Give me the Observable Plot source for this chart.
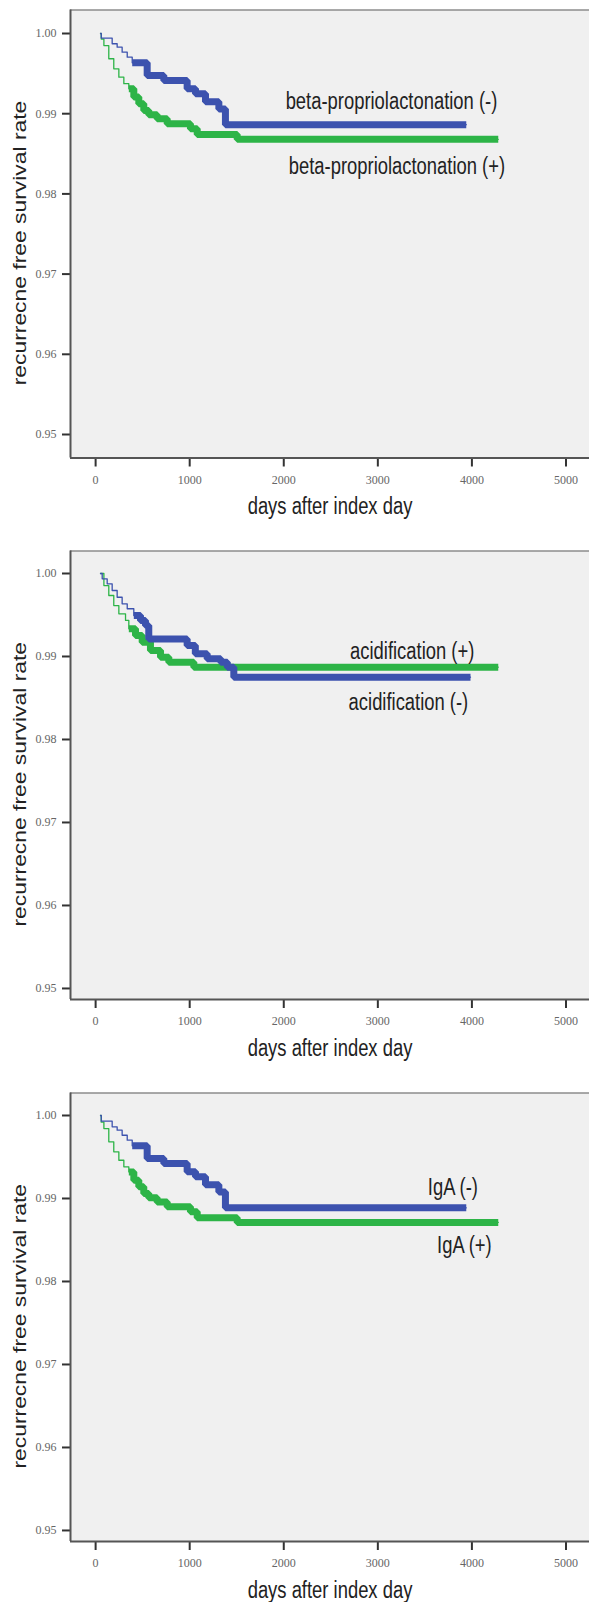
<!DOCTYPE html>
<html>
<head>
<meta charset="utf-8">
<script src="https://cdn.jsdelivr.net/npm/d3@7"></script>
<script src="https://cdn.jsdelivr.net/npm/@observablehq/plot@0.6"></script>
<style>
  html, body { margin: 0; padding: 0; background: #fff; overflow: hidden; }
  #chart svg { display: block; }
</style>
</head>
<body>
<div id="chart"></div>
<script>
// ---------- data ----------
const xTicks = [0, 1000, 2000, 3000, 4000, 5000];
const yTicks = [0.95, 0.96, 0.97, 0.98, 0.99, 1.00];
const yTitle = "recurrecne free survival rate";
const xTitle = "days after index day";

// Panel 1: beta-propriolactonation
const bplNegDays = [52, 60, 176, 229, 282, 336, 389, 548, 725, 973, 1062, 1168, 1310, 1380, 3940];
const bplNegSurv = [1.0, 0.99943, 0.99872, 0.9983, 0.99767, 0.99705, 0.99635, 0.99477, 0.99415, 0.99311, 0.9925, 0.9915, 0.9906, 0.98863, 0.98863];
const bplNegBandStart = 389;
const bplPosDays = [52, 60, 88, 140, 193, 247, 300, 353, 406, 459, 512, 565, 654, 761, 1008, 1080, 1505, 4280];
const bplPosSurv = [1.0, 0.9993, 0.9985, 0.99685, 0.9956, 0.99456, 0.99374, 0.9931, 0.99207, 0.99124, 0.9904, 0.98987, 0.98937, 0.98875, 0.98813, 0.9874, 0.9868, 0.9868];
const bplPosBandStart = 353;
const bplLabels = ["beta-propriolactonation (-)", "beta-propriolactonation (+)"];
const bplLabelDays = [3145, 3203];
const bplLabelSurv = [0.99155, 0.98345];

// Panel 2: acidification
const acidNegDays = [52, 70, 123, 176, 229, 282, 336, 406, 477, 530, 565, 973, 1060, 1186, 1330, 1400, 1469, 3985];
const acidNegSurv = [1.0, 0.99936, 0.99876, 0.99795, 0.99714, 0.99635, 0.99575, 0.99494, 0.99434, 0.99373, 0.99211, 0.99133, 0.99033, 0.98972, 0.98931, 0.98871, 0.98751, 0.98751];
const acidNegBandStart = 406;
const acidPosDays = [52, 88, 140, 193, 247, 318, 353, 424, 495, 583, 690, 778, 1044, 4280];
const acidPosSurv = [1.0, 0.99855, 0.99735, 0.99614, 0.99514, 0.99434, 0.99334, 0.99253, 0.99172, 0.99072, 0.98992, 0.98931, 0.98871, 0.98871];
const acidPosBandStart = 353;
const acidLabels = ["acidification (+)", "acidification (-)"];
const acidLabelDays = [3365, 3325];
const acidLabelSurv = [0.99055, 0.98440];

// Panel 3: IgA
const igaNegDays = [52, 60, 176, 229, 282, 336, 389, 548, 725, 973, 1062, 1168, 1310, 1380, 3940];
const igaNegSurv = [1.0, 0.99932, 0.99864, 0.99823, 0.99762, 0.99702, 0.99634, 0.99482, 0.99422, 0.99321, 0.99262, 0.99165, 0.99078, 0.98888, 0.98888];
const igaNegBandStart = 389;
const igaPosDays = [52, 60, 88, 140, 193, 247, 300, 353, 406, 459, 512, 565, 654, 761, 1008, 1080, 1505, 4280];
const igaPosSurv = [1.0, 0.9992, 0.99842, 0.99683, 0.99562, 0.99461, 0.99382, 0.9932, 0.9922, 0.9914, 0.99059, 0.99008, 0.98959, 0.98899, 0.98839, 0.98769, 0.98711, 0.98711];
const igaPosBandStart = 353;
const igaLabels = ["IgA (-)", "IgA (+)"];
const igaLabelDays = [3798, 3920];
const igaLabelSurv = [0.99127, 0.98429];

// axis extents of each panel
const xDomain = [-267, 5250];
const yDomain1 = [0.94707, 1.00293];
const yDomain23 = [0.94867, 1.00271];

// ---------- styling ----------
const BLUE = "#3c52ae";
const GREEN = "#2db447";
const sans = "'Liberation Sans', Arial, sans-serif";
const serif = "'Liberation Serif', 'Times New Roman', serif";
const H_SIZE = 23;   // horizontal labels (narrowed below)
const V_SIZE = 18;   // vertical axis title (lengthened below)

function rows(days, surv) { return days.map((d, i) => ({day: d, surv: surv[i]})); }

function panel({negDays, negSurv, negBand, posDays, posSurv, posBand, labels, labelDays, labelSurv, yDomain, height, marginBottom}) {
  const neg = rows(negDays, negSurv);
  const pos = rows(posDays, posSurv);
  const lab = labels.map((t, i) => ({text: t, day: labelDays[i], surv: labelSurv[i]}));
  return Plot.plot({
    width: 589,
    height,
    marginTop: 9.5,
    marginLeft: 70,
    marginRight: 0,
    marginBottom,
    style: {background: "#fff", overflow: "visible"},
    x: {domain: xDomain},
    y: {domain: yDomain},
    marks: [
      Plot.frame({fill: "#f0f0f0", stroke: null}),
      Plot.ruleY([yDomain[1]], {stroke: "#8c8c8c", strokeWidth: 1.5}),
      Plot.line(pos, {x: "day", y: "surv", curve: "step-after", stroke: GREEN, strokeWidth: 1.3}),
      Plot.line(neg, {x: "day", y: "surv", curve: "step-after", stroke: BLUE, strokeWidth: 1.3}),
      Plot.line(pos.filter(d => d.day >= posBand), {x: "day", y: "surv", curve: "step-after", stroke: GREEN, strokeWidth: 7, strokeLinejoin: "miter", strokeLinecap: "butt"}),
      Plot.line(neg.filter(d => d.day >= negBand), {x: "day", y: "surv", curve: "step-after", stroke: BLUE, strokeWidth: 7, strokeLinejoin: "miter", strokeLinecap: "butt"}),
      Plot.text(lab, {x: "day", y: "surv", text: "text", fontFamily: sans, fontSize: H_SIZE, fill: "#222", textAnchor: "middle"}),
      Plot.axisY({ticks: yTicks, tickFormat: d3.format(".2f"), tickSize: 8, tickPadding: 6, strokeWidth: 2, stroke: "#333", fill: "#666", fontFamily: serif, fontSize: 12, label: null}),
      Plot.axisX({ticks: xTicks, tickFormat: d3.format("d"), tickSize: 9, tickPadding: 8, strokeWidth: 2, stroke: "#333", fill: "#666", fontFamily: serif, fontSize: 12, label: null}),
      Plot.ruleX([xDomain[0]], {stroke: "#555", strokeWidth: 2}),
      Plot.ruleY([yDomain[0]], {stroke: "#555", strokeWidth: 2}),
      Plot.text([yTitle], {frameAnchor: "left", text: d => d, rotate: -90, textAnchor: "middle", lineAnchor: "middle", dx: -50, dy: 9, fontFamily: sans, fontSize: V_SIZE, fill: "#222"}),
      Plot.text([xTitle], {frameAnchor: "bottom", text: d => d, textAnchor: "middle", lineAnchor: "middle", dy: 49, fontFamily: sans, fontSize: H_SIZE, fill: "#222"})
    ]
  });
}

const chart = document.getElementById("chart");
chart.append(panel({negDays: bplNegDays, negSurv: bplNegSurv, negBand: bplNegBandStart, posDays: bplPosDays, posSurv: bplPosSurv, posBand: bplPosBandStart, labels: bplLabels, labelDays: bplLabelDays, labelSurv: bplLabelSurv, yDomain: yDomain1, height: 541, marginBottom: 83.5}));
chart.append(panel({negDays: acidNegDays, negSurv: acidNegSurv, negBand: acidNegBandStart, posDays: acidPosDays, posSurv: acidPosSurv, posBand: acidPosBandStart, labels: acidLabels, labelDays: acidLabelDays, labelSurv: acidLabelSurv, yDomain: yDomain23, height: 542, marginBottom: 84}));
chart.append(panel({negDays: igaNegDays, negSurv: igaNegSurv, negBand: igaNegBandStart, posDays: igaPosDays, posSurv: igaPosSurv, posBand: igaPosBandStart, labels: igaLabels, labelDays: igaLabelDays, labelSurv: igaLabelSurv, yDomain: yDomain23, height: 519, marginBottom: 61}));

// the source figure is stretched vertically: narrow horizontal text, long vertical text
function adjust(selector, factor) {
  chart.querySelectorAll(selector).forEach(t => {
    const L = t.getComputedTextLength();
    if (L > 0) {
      t.setAttribute("textLength", (L * factor).toFixed(1));
      t.setAttribute("lengthAdjust", "spacingAndGlyphs");
    }
  });
}
adjust(`g[font-size="${H_SIZE}"] text`, 0.8);
adjust(`g[font-size="${V_SIZE}"] text`, 1.27);
</script>
</body>
</html>
